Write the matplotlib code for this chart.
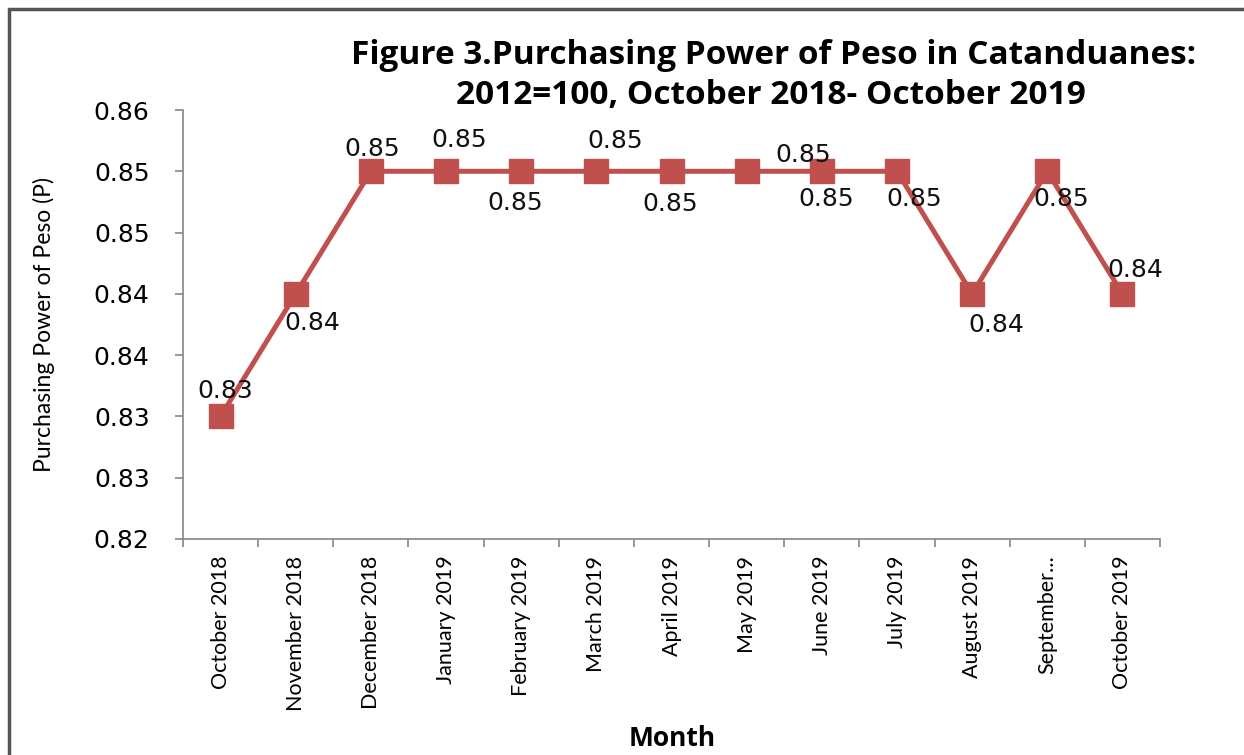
import matplotlib
matplotlib.use("Agg")
import matplotlib.pyplot as plt
from matplotlib.patches import Rectangle

months = ["October 2018", "November 2018", "December 2018", "January 2019",
          "February 2019", "March 2019", "April 2019", "May 2019", "June 2019",
          "July 2019", "August 2019", "September...", "October 2019"]
values = [0.830, 0.840, 0.850, 0.850, 0.850, 0.850, 0.850, 0.850, 0.850,
          0.850, 0.840, 0.850, 0.840]
ytick_values = [0.820, 0.825, 0.830, 0.835, 0.840, 0.845, 0.850, 0.855]
ytick_labels = ["0.82", "0.83", "0.83", "0.84", "0.84", "0.85", "0.85", "0.86"]

# data-label placements: (index of point, offset x px, offset y px)
label_spots = [(0, 5, 25), (1, 17, -29), (2, 1, 22), (3, 13, 31), (4, -6, -32),
               (5, 19, 30), (6, -1, -33), (8, -19, 16), (8, 4, -28),
               (9, 17, -28), (10, 24, -31), (11, 14, -28), (12, 13, 24)]

cal = ["Lato", "DejaVu Sans"]
wide = ["Open Sans", "DejaVu Sans"]

W, H = 1244, 755
fig = plt.figure(figsize=(W / 100, H / 100), dpi=100)
ax = fig.add_axes([183 / W, 1 - 539 / H, (1160 - 183) / W, (539 - 110) / H])

red = "#C0504D"
x = list(range(len(months)))
ax.plot(x, values, color=red, lw=3.6, marker="s", markersize=17,
        markeredgecolor=red, markerfacecolor=red, zorder=3)

for i, dx, dy in label_spots:
    ax.annotate(f"{values[i]:.2f}", (x[i], values[i]), xytext=(dx, dy),
                textcoords="offset pixels", ha="center", va="center",
                fontsize=18, family="DejaVu Sans", color="#111111", zorder=4)

ax.set_xlim(-0.5, len(months) - 0.5)
ax.set_ylim(0.82, 0.855)
ax.set_yticks(ytick_values)
ax.set_yticklabels(ytick_labels, fontsize=18, family="DejaVu Sans")
ax.set_xticks(x)
ax.set_xticklabels(months, rotation=90, fontsize=15.5, family=cal)
ax.set_xticks([i - 0.5 for i in range(len(months) + 1)], minor=True)
ax.tick_params(axis="x", which="major", length=0, pad=12)
ax.tick_params(axis="x", which="minor", length=6, color="#868686", width=1.2)
ax.tick_params(axis="y", length=6, color="#868686", width=1.2, pad=18)

for s in ["top", "right"]:
    ax.spines[s].set_visible(False)
for s in ["left", "bottom"]:
    ax.spines[s].set_color("#868686")
    ax.spines[s].set_linewidth(1.2)

ax.set_ylabel("Purchasing Power of Peso (P)", fontsize=16.5, family=cal)
ax.yaxis.set_label_coords(-0.131, 0.5)
fig.text(672 / W, 1 - 739 / H, "Month", ha="center", va="center",
         fontsize=19, fontweight="bold", family=wide)

fig.text(774 / W, 1 - 55 / H, "Figure 3.Purchasing Power of Peso in Catanduanes:",
         ha="center", va="center", fontsize=24, fontweight="bold", family=wide)
fig.text(771 / W, 1 - 95 / H, "2012=100, October 2018- October 2019",
         ha="center", va="center", fontsize=24, fontweight="bold", family=wide)

fig.patches.append(Rectangle((9 / W, -0.1), 1.2, 1 - 9 / H + 0.1,
                             transform=fig.transFigure, fill=False,
                             edgecolor="#555555", lw=2.5))

fig.savefig("out.png", dpi=100)
